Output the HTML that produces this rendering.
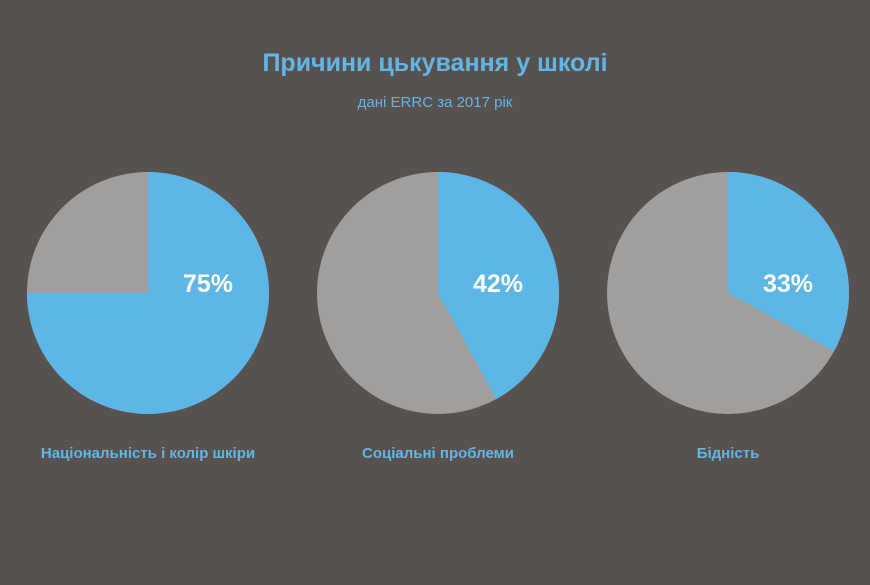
<!DOCTYPE html>
<html><head><meta charset="utf-8"><style>
html,body{margin:0;padding:0}
body{width:870px;height:580px;background:#57524f;font-family:"Liberation Sans",sans-serif;overflow:hidden}
</style></head><body>
<svg width="870" height="580">
<text x="435" y="71" text-anchor="middle" fill="#62b5e5" font-size="25" font-weight="bold">Причини цькування у школі</text>
<text x="435" y="107" text-anchor="middle" fill="#62b5e5" font-size="15">дані ERRC за 2017 рік</text>
<g id="pies"></g>
</svg>
<script>
const categories = ["Національність і колір шкіри", "Соціальні проблеми", "Бідність"];
const values = [75, 42, 33];
const labels = ["75%", "42%", "33%"];
const ns = "http://www.w3.org/2000/svg";
const g = document.getElementById("pies");
const cxs = [148, 438, 728], cy = 293, r = 121;
categories.forEach((c, i) => {
  const cx = cxs[i];
  const bg = document.createElementNS(ns, "circle");
  
  
  bg.setAttribute("cx", cx); bg.setAttribute("cy", cy); bg.setAttribute("r", r);
  bg.setAttribute("fill", "#a09f9e");
  g.appendChild(bg);
  const a = values[i] / 100 * 2 * Math.PI;
  const x = cx + r * Math.sin(a), y = cy - r * Math.cos(a);
  const p = document.createElementNS(ns, "path");
  
  
  p.setAttribute("d", `M${cx},${cy} L${cx},${cy - r} A${r},${r} 0 ${values[i] > 50 ? 1 : 0} 1 ${x},${y} Z`);
  p.setAttribute("fill", "#5db7e6");
  g.appendChild(p);
  const t = document.createElementNS(ns, "text");
  
  
  t.setAttribute("x", cx + 60); t.setAttribute("y", 292);
  t.setAttribute("text-anchor", "middle"); t.setAttribute("fill", "#fff");
  t.setAttribute("font-size", "25"); t.setAttribute("font-weight", "bold");
  t.textContent = labels[i];
  g.appendChild(t);
  const l = document.createElementNS(ns, "text");
  
  
  l.setAttribute("x", cx); l.setAttribute("y", 458);
  l.setAttribute("text-anchor", "middle"); l.setAttribute("fill", "#62b5e5");
  l.setAttribute("font-size", "15"); l.setAttribute("font-weight", "bold");
  l.textContent = c;
  g.appendChild(l);
});
</script>
</body></html>
